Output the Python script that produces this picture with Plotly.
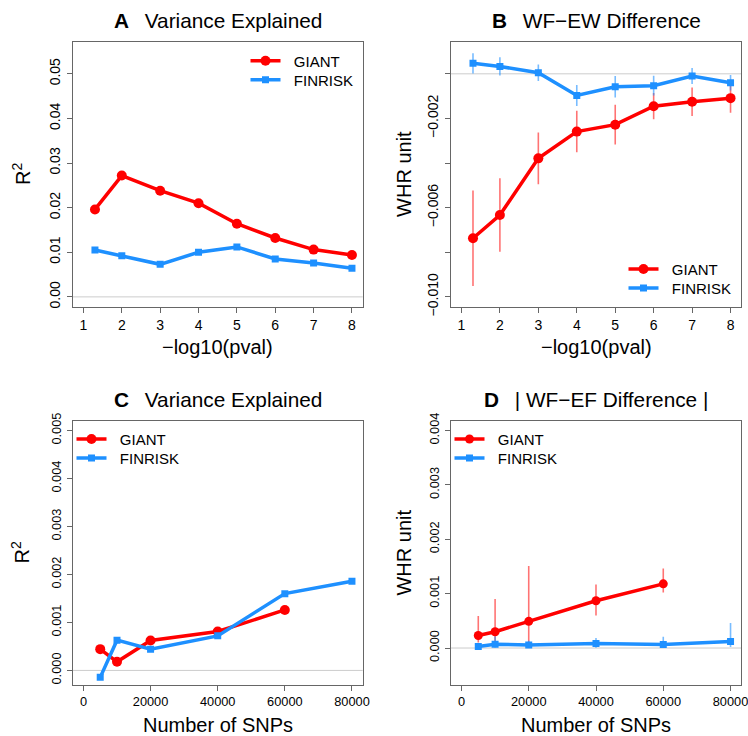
import plotly.graph_objects as go

W, H = 748, 736
RED = "#FF0000"
BLUE = "#1E90FF"
RED_ERR = "rgba(255,0,0,0.55)"
BLUE_ERR = "rgba(30,144,255,0.6)"
FONT = "Liberation Sans, Arial, Helvetica, sans-serif"

# ---------------- data ----------------
pval_x = [1.3, 2, 3, 4, 5, 6, 7, 8]
a_giant = [0.0196, 0.0272, 0.0238, 0.0210, 0.0164, 0.0132, 0.0106, 0.0094]
a_finrisk = [0.0105, 0.0092, 0.0073, 0.0100, 0.0112, 0.0085, 0.0076, 0.0064]

b_giant = [-0.00737, -0.00633, -0.00379, -0.00259, -0.00228, -0.00145, -0.00125, -0.00109]
b_giant_err = [0.00214, 0.00165, 0.00116, 0.00093, 0.00089, 0.00059, 0.00064, 0.00066]
b_finrisk = [0.00047, 0.00033, 0.00005, -0.00097, -0.00058, -0.00053, -0.00010, -0.00040]
b_finrisk_err = [0.00045, 0.00041, 0.00037, 0.00047, 0.00048, 0.00044, 0.00036, 0.00035]

snp_giant_x = [5000, 10000, 20000, 40000, 60000]
snp_finrisk_x = [5000, 10000, 20000, 40000, 60000, 80000]
c_giant = [0.000443, 0.00018, 0.000623, 0.00081, 0.00126]
c_finrisk = [-0.000145, 0.00063, 0.000443, 0.00072, 0.0016, 0.00186]

d_giant = [0.000231, 0.00030, 0.00049, 0.00087, 0.00118]
d_giant_up = [0.00036, 0.00060, 0.00102, 0.00030, 0.00028]
d_giant_down = [0.00013, 0.00020, 0.00040, 0.00027, 0.00016]
d_finrisk = [0.00003, 0.00007, 0.000055, 0.000085, 0.000066, 0.00012]
d_finrisk_up = [0.00005, 0.00014, 0.00008, 0.00010, 0.00014, 0.00034]
d_finrisk_down = [0.00003, 0.00006, 0.00005, 0.00008, 0.00006, 0.00010]

pval_ticks = [1, 2, 3, 4, 5, 6, 7, 8]
snp_ticks = [0, 20000, 40000, 60000, 80000]
a_yticks = [0, 0.01, 0.02, 0.03, 0.04, 0.05]
a_ytext = ["0.00", "0.01", "0.02", "0.03", "0.04", "0.05"]
b_yticks = [-0.002, -0.006, -0.010]
b_ytext = ["\u22120.002", "\u22120.006", "\u22120.010"]
b_yminor = [0, -0.004, -0.008]
c_yticks = [0, 0.001, 0.002, 0.003, 0.004, 0.005]
c_ytext = ["0.000", "0.001", "0.002", "0.003", "0.004", "0.005"]
d_yticks = [0, 0.001, 0.002, 0.003, 0.004]
d_ytext = ["0.000", "0.001", "0.002", "0.003", "0.004"]

titles = [("A", "Variance Explained"), ("B", "WF\u2212EW Difference"),
          ("C", "Variance Explained"), ("D", "| WF\u2212EF Difference |")]
xtitles = ["\u2212log10(pval)", "\u2212log10(pval)", "Number of SNPs", "Number of SNPs"]
ytitles = ["R<sup>2</sup>", "WHR unit", "R<sup>2</sup>", "WHR unit"]

# ---------------- layout geometry (pixels) ----------------
boxes = [  # x0, x1, y0(top), y1(bottom)
    (72.7, 362.7, 41.7, 306.7),
    (450.7, 741.3, 41.7, 306.7),
    (72.7, 362.7, 420.7, 685.0),
    (450.7, 741.3, 420.7, 685.0),
]
xranges = [[0.72, 8.28], [0.72, 8.28], [-3200, 83200], [-3200, 83200]]
yranges = [[-0.0022, 0.0572], [-0.01044, 0.00144], [-0.000304, 0.005204], [-0.00068, 0.00418]]
xtickv = [pval_ticks, pval_ticks, snp_ticks, snp_ticks]
ytickv = [a_yticks, b_yticks, c_yticks, d_yticks]
yticktext = [a_ytext, b_ytext, c_ytext, d_ytext]
tick_sizes = [14, 14, 12.8, 12.8]
ytitle_dx = [52, 47, 52, 47]
# legend rows: (left px, centre y px) for GIANT then FINRISK in each panel
legend_rows = [
    [(245.5, 61), (245.5, 80)],
    [(623.5, 269.3), (623.5, 288.3)],
    [(71.5, 439.3), (71.5, 458.3)],
    [(449.5, 439.3), (449.5, 458.3)],
]

fig = go.Figure()


def px_x(p):
    return p / W


def px_y(p):
    return 1 - p / H


def legend_id(k):
    return "legend" if k == 0 else f"legend{k+1}"


def add_series(i, j, x, y, name, color, symbol, size, err=None, errcolor=None):
    xa = "x" if i == 0 else f"x{i+1}"
    ya = "y" if i == 0 else f"y{i+1}"
    kw = {}
    if err is not None:
        up, down = err
        kw["error_y"] = dict(type="data", array=up, arrayminus=down, symmetric=False,
                             color=errcolor, thickness=1.6, width=0)
    fig.add_trace(go.Scatter(
        x=x, y=y, name="\u00a0\u00a0" + name, mode="lines+markers", xaxis=xa, yaxis=ya,
        legend=legend_id(2 * i + j),
        line=dict(color=color, width=3.5),
        marker=dict(color=color, symbol=symbol, size=size, line=dict(width=0)),
        showlegend=True, **kw))


add_series(0, 0, pval_x, a_giant, "GIANT", RED, "circle", 10)
add_series(0, 1, pval_x, a_finrisk, "FINRISK", BLUE, "square", 7)
add_series(1, 0, pval_x, b_giant, "GIANT", RED, "circle", 10, (b_giant_err, b_giant_err), RED_ERR)
add_series(1, 1, pval_x, b_finrisk, "FINRISK", BLUE, "square", 7, (b_finrisk_err, b_finrisk_err), BLUE_ERR)
add_series(2, 0, snp_giant_x, c_giant, "GIANT", RED, "circle", 10)
add_series(2, 1, snp_finrisk_x, c_finrisk, "FINRISK", BLUE, "square", 7)
add_series(3, 0, snp_giant_x, d_giant, "GIANT", RED, "circle", 9, (d_giant_up, d_giant_down), RED_ERR)
add_series(3, 1, snp_finrisk_x, d_finrisk, "FINRISK", BLUE, "square", 7, (d_finrisk_up, d_finrisk_down), BLUE_ERR)

layout = dict(
    width=W, height=H, margin=dict(l=0, r=0, t=0, b=0, pad=0, autoexpand=False),
    paper_bgcolor="white", plot_bgcolor="white",
    font=dict(family=FONT, color="black", size=15),
)

annotations = []
shapes = []
for i, (x0, x1, y0, y1) in enumerate(boxes):
    sx = "" if i == 0 else str(i + 1)
    axis_common = dict(showgrid=False, zeroline=False, showline=True, mirror=True,
                       linecolor="#666666", linewidth=1, ticks="outside", ticklen=5,
                       tickcolor="#666666", tickwidth=1, automargin=False,
                       tickfont=dict(family=FONT, size=tick_sizes[i], color="black"))
    layout["xaxis" + sx] = dict(domain=[px_x(x0), px_x(x1)], range=xranges[i],
                                tickvals=xtickv[i], ticktext=[str(v) for v in xtickv[i]],
                                ticklabeloverflow="allow",
                                anchor="y" + sx, **axis_common)
    ydict = dict(domain=[px_y(y1), px_y(y0)], range=yranges[i],
                 tickvals=ytickv[i], ticktext=yticktext[i], tickangle=-90,
                 ticklabelstandoff=1, anchor="x" + sx, **axis_common)
    if i == 1:
        ydict["minor"] = dict(tickvals=b_yminor, ticks="outside", ticklen=5,
                              tickcolor="#666666", tickwidth=1, showgrid=False)
    layout["yaxis" + sx] = ydict
    # zero reference line
    shapes.append(dict(type="line", xref=f"x{sx} domain", yref="y" + sx,
                       x0=0, x1=1, y0=0, y1=0, line=dict(color="#cccccc", width=1), layer="below"))
    # panel title
    letter, ttl = titles[i]
    annotations.append(dict(text=f"<b>{letter}</b>\u00a0\u00a0\u2009{ttl}", xref="paper",
                            yref="paper",
                            x=px_x((x0 + x1) / 2), y=px_y(y0 - 21.5), xanchor="center",
                            yanchor="middle", showarrow=False,
                            font=dict(family=FONT, size=20.8, color="black")))
    # x axis title
    annotations.append(dict(text=xtitles[i], xref="paper", yref="paper",
                            x=px_x((x0 + x1) / 2), y=px_y(y1 + 40), xanchor="center",
                            yanchor="middle", showarrow=False,
                            font=dict(family=FONT, size=20, color="black")))
    # y axis title
    annotations.append(dict(text=ytitles[i], xref="paper", yref="paper",
                            x=px_x(x0 - ytitle_dx[i]), y=px_y((y0 + y1) / 2), xanchor="center",
                            yanchor="middle", textangle=-90, showarrow=False,
                            font=dict(family=FONT, size=20, color="black")))
    for j in range(2):
        lx, ly = legend_rows[i][j]
        layout[legend_id(2 * i + j)] = dict(
            x=px_x(lx), y=px_y(ly), xanchor="left", yanchor="middle",
            bgcolor="rgba(0,0,0,0)", borderwidth=0, itemwidth=30,
            tracegroupgap=0, font=dict(family=FONT, size=15, color="black"))

layout["annotations"] = annotations
layout["shapes"] = shapes
fig.update_layout(**layout)

fig.write_html("out.html", config={"displayModeBar": False},
               post_script="document.body.style.margin='0';document.body.style.padding='0';"
                           "document.body.style.overflow='hidden';")
